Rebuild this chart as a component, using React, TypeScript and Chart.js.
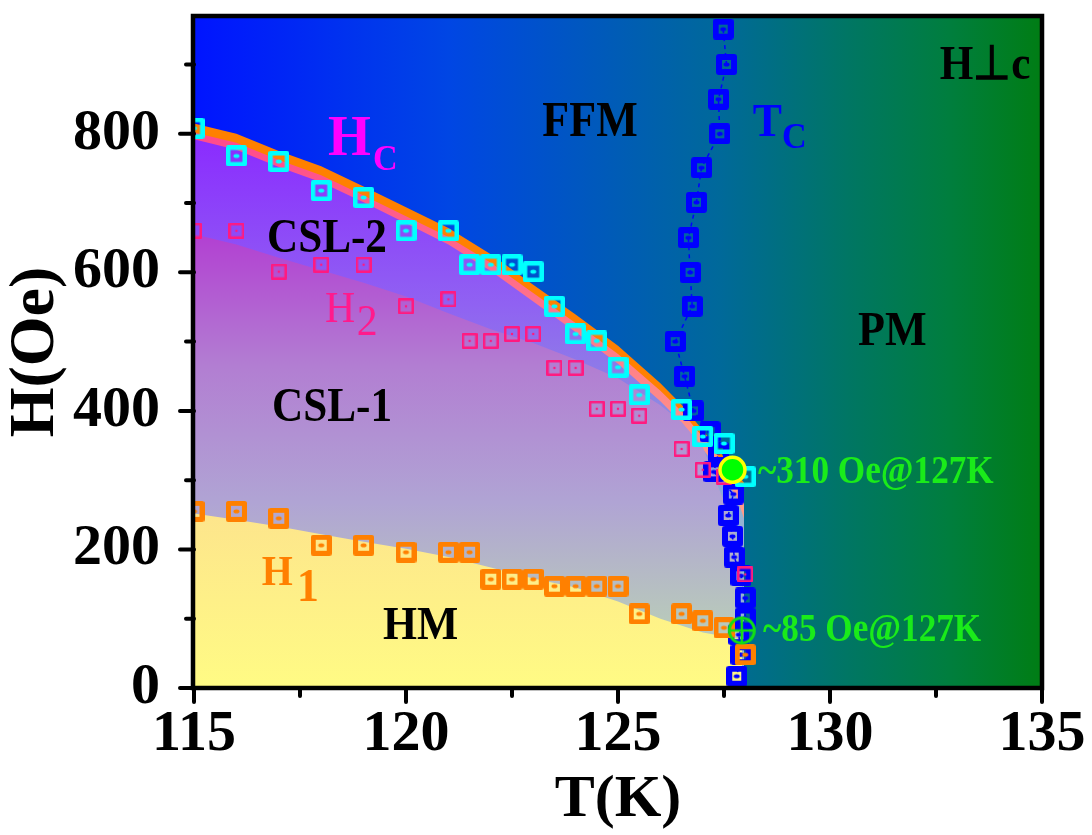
import React, { useEffect, useRef } from "react";
import { Chart, registerables } from "chart.js";

Chart.register(...registerables);

const FONT = '"Liberation Serif", "Times New Roman", serif';

// ---- axis ticks ----
const xMajorTicks = [115, 120, 125, 130, 135];
const xMinorTicks = [117.5, 122.5, 127.5, 132.5];
const yMajorTicks = [0, 200, 400, 600, 800];
const yMinorTicks = [100, 300, 500, 700, 900];

// ---- measured points ----
const markerTemps = [115, 116, 117, 118, 119, 120, 121, 121.5, 122, 122.5, 123, 123.5, 124, 124.5, 125, 125.5, 126.5, 127, 127.5, 128];
const hcField = [808, 768, 760, 718, 708, 660, 660, 611, 611, 611, 601, 551, 511, 501, 463, 423, 402, 363, 353, 305];
const h2Field = [660, 660, 601, 611, 611, 551, 561, 501, 501, 511, 511, 462, 462, 403, 403, 393, 345, 315, 305, 164];
const h1Field = [255, 255, 245, 206, 206, 196, 196, 196, 157, 157, 157, 147, 147, 147, 147, 107, 107, 97, 87, 48];

const tcTemp = [127.48, 127.56, 127.37, 127.4, 126.97, 126.85, 126.66, 126.7, 126.75, 126.35, 126.57, 126.78, 127.17, 127.37, 127.26, 127.72, 127.6, 127.7, 127.74, 127.9, 128.0, 128.0, 127.85, 127.9, 127.8];
const tcField = [951, 900, 850, 800, 751, 701, 650, 600, 551, 500, 450, 400, 370, 340, 312, 280, 249, 219, 189, 162, 130, 101, 77, 48, 17];

const crit310Temp = [127.7];
const crit310Field = [315];
const crit85Temp = [127.92];
const crit85Field = [83];

// ---- phase boundaries (region edges) ----
const hcEdgeT = [115, 116, 117, 118, 119, 120, 121, 122, 123, 124, 125, 126, 126.5, 127, 127.5, 128.05, 127.97, 127.97];
const hcEdgeH = [815, 800, 775, 753, 724, 694, 664, 626, 582, 539, 494, 440, 409, 372, 333, 290, 260, 0];

const pinkEdgeT = [115, 116, 117, 118, 119, 120, 121, 122, 123, 124, 125, 126, 126.5, 127, 127.5, 128.0, 127.97, 127.97];
const pinkEdgeH = [802, 787, 762, 740, 711, 681, 651, 614, 570, 527, 482, 429, 399, 362, 324, 283, 255, 0];

const csl2EdgeT = [115, 116, 117, 118, 119, 120, 121, 122, 123, 124, 125, 126, 126.5, 127, 127.5, 127.8, 127.97, 127.97];
const csl2EdgeH = [792, 777, 752, 730, 701, 671, 640, 602, 558, 514, 468, 414, 383, 345, 305, 275, 245, 0];

const csl1EdgeT = [115, 116, 117, 118, 119, 120, 121, 122, 123, 124, 125, 126, 126.5, 127, 127.3, 127.55, 127.75, 127.87, 127.87];
const csl1EdgeH = [655, 640, 621, 603, 585, 565, 541, 518, 498, 474, 447, 408, 384, 348, 300, 262, 230, 190, 0];

const hmEdgeT = [115, 116, 117, 118, 119, 120, 121, 122, 123, 124, 125, 126, 127, 127.93, 127.93];
const hmEdgeH = [252, 243, 233, 222, 211, 201, 189, 174, 158, 145, 125, 100, 80, 70, 0];

// ---- text annotations (data coordinates) ----
const textLabels = [
  { text: "FFM", x: 124.34, y: 797, color: "#000000", size: 50, weight: "bold", align: "center", sx: 0.88 },
  { text: "H", x: 118.16, y: 770, color: "#ff00ff", size: 58, weight: "bold", align: "left", sx: 0.95 },
  { text: "C", x: 119.22, y: 747, color: "#ff00ff", size: 36, weight: "bold", align: "left", sx: 0.95 },
  { text: "T", x: 128.18, y: 797, color: "#0000ff", size: 46, weight: "bold", align: "left", sx: 0.95 },
  { text: "C", x: 128.87, y: 780, color: "#0000ff", size: 36, weight: "bold", align: "left", sx: 0.95 },
  { text: "CSL-2", x: 116.72, y: 630, color: "#000000", size: 48, weight: "bold", align: "left", sx: 0.9 },
  { text: "H", x: 118.09, y: 528, color: "#ff1a8c", size: 44, weight: "normal", align: "left", sx: 0.95 },
  { text: "2", x: 118.84, y: 509, color: "#ff1a8c", size: 44, weight: "normal", align: "left", sx: 0.95 },
  { text: "CSL-1", x: 116.84, y: 385, color: "#000000", size: 48, weight: "bold", align: "left", sx: 0.9 },
  { text: "PM", x: 130.66, y: 495, color: "#000000", size: 48, weight: "bold", align: "left", sx: 0.92 },
  { text: "H", x: 116.6, y: 149, color: "#ff8000", size: 42, weight: "bold", align: "left", sx: 0.95 },
  { text: "1", x: 117.43, y: 125, color: "#ff8000", size: 46, weight: "bold", align: "left", sx: 0.95 },
  { text: "HM", x: 119.46, y: 71, color: "#000000", size: 46, weight: "bold", align: "left", sx: 0.95 },
  { text: "H\u22A5c", x: 132.59, y: 879, color: "#000000", size: 48, weight: "bold", align: "left", sx: 0.9 },
  { text: "~310 Oe@127K", x: 128.3, y: 296, color: "#1aeb1a", size: 40, weight: "bold", align: "left", sx: 0.88 },
  { text: "~85 Oe@127K", x: 128.42, y: 68, color: "#1aeb1a", size: 40, weight: "bold", align: "left", sx: 0.88 },
];

const pts = (xs: number[], ys: number[]) => xs.map((x, i) => ({ x, y: ys[i] }));

function squareMarker(size: number, lw: number, color: string, dotW: number, dotH: number) {
  const c = document.createElement("canvas");
  c.width = size;
  c.height = size;
  const g = c.getContext("2d")!;
  g.strokeStyle = color;
  g.lineWidth = lw;
  g.lineJoin = "round";
  g.strokeRect(lw / 2, lw / 2, size - lw, size - lw);
  g.fillStyle = color;
  g.beginPath();
  g.ellipse(size / 2, size / 2, dotW / 2, dotH / 2, 0, 0, Math.PI * 2);
  g.fill();
  return c;
}

function crossCircleMarker() {
  const s = 32;
  const c = document.createElement("canvas");
  c.width = s;
  c.height = s;
  const g = c.getContext("2d")!;
  g.strokeStyle = "#12e012";
  g.lineWidth = 3;
  g.beginPath();
  g.arc(s / 2, s / 2, 12.5, 0, Math.PI * 2);
  g.stroke();
  g.lineWidth = 2.5;
  g.beginPath();
  g.moveTo(s / 2, 4);
  g.lineTo(s / 2, s - 4);
  g.moveTo(4, s / 2);
  g.lineTo(s - 4, s / 2);
  g.stroke();
  return c;
}

function verticalGradient(y0: number, y1: number, stops: [number, string][]) {
  return (ctx: any) => {
    const chart = ctx.chart;
    const { chartArea, scales } = chart;
    if (!chartArea || !scales.y) return stops[0][1];
    const g = chart.ctx.createLinearGradient(0, scales.y.getPixelForValue(y0), 0, scales.y.getPixelForValue(y1));
    stops.forEach(([o, c]) => g.addColorStop(o, c));
    return g;
  };
}

const backgroundPlugin = {
  id: "phaseBackground",
  beforeDatasetsDraw(chart: any) {
    const { ctx, chartArea: a } = chart;
    const g = ctx.createLinearGradient(a.left, 0, a.right, 0);
    g.addColorStop(0, "#0014ff");
    g.addColorStop(0.3, "#0046e4");
    g.addColorStop(0.62, "#00699a");
    g.addColorStop(0.77, "#007664");
    g.addColorStop(0.89, "#007e3e");
    g.addColorStop(1, "#007d14");
    ctx.save();
    ctx.fillStyle = g;
    ctx.fillRect(a.left, a.top, a.width, a.height);
    ctx.restore();
  },
};

const textPlugin = {
  id: "phaseText",
  afterDatasetsDraw(chart: any) {
    const { ctx, scales } = chart;
    ctx.save();
    textLabels.forEach((l) => {
      const px = scales.x.getPixelForValue(l.x);
      const py = scales.y.getPixelForValue(l.y);
      ctx.save();
      ctx.translate(px, py);
      ctx.scale(l.sx, 1);
      ctx.font = `${l.weight} ${l.size}px ${FONT}`;
      ctx.fillStyle = l.color;
      ctx.textAlign = l.align;
      ctx.textBaseline = "alphabetic";
      ctx.fillText(l.text, 0, 0);
      ctx.restore();
    });
    ctx.restore();
  },
};

const framePlugin = {
  id: "phaseFrame",
  afterDraw(chart: any) {
    const { ctx, chartArea: a, scales } = chart;
    ctx.save();
    ctx.strokeStyle = "#000";
    ctx.lineWidth = 4.5;
    ctx.strokeRect(a.left - 1, a.top, a.width + 1, a.height);
    ctx.lineCap = "round";
    ctx.lineWidth = 4;
    ctx.beginPath();
    xMajorTicks.forEach((v) => {
      const p = scales.x.getPixelForValue(v);
      ctx.moveTo(p, a.bottom);
      ctx.lineTo(p, a.bottom + 14);
    });
    xMinorTicks.forEach((v) => {
      const p = scales.x.getPixelForValue(v);
      ctx.moveTo(p, a.bottom);
      ctx.lineTo(p, a.bottom + 8);
    });
    yMajorTicks.forEach((v) => {
      const p = scales.y.getPixelForValue(v);
      ctx.moveTo(a.left, p);
      ctx.lineTo(a.left - 14, p);
    });
    yMinorTicks.forEach((v) => {
      const p = scales.y.getPixelForValue(v);
      ctx.moveTo(a.left, p);
      ctx.lineTo(a.left - 8, p);
    });
    ctx.stroke();
    ctx.restore();
  },
};

export default function App() {
  const ref = useRef<HTMLCanvasElement>(null);

  useEffect(() => {
    document.body.style.margin = "0";
    const canvas = ref.current;
    if (!canvas) return;

    const cyanMarker = squareMarker(21, 4.5, "#00ffff", 6, 4);
    const pinkMarker = squareMarker(16, 2.5, "#ff1a80", 2.5, 2.5);
    const orangeMarker = squareMarker(21, 5, "#ff8000", 6, 4);
    const blueMarker = squareMarker(21, 6, "#0000ff", 6, 4);
    const crossMarker = crossCircleMarker();

    const region = (data: any[], bg: any, order: number) => ({
      data,
      showLine: true,
      fill: "origin",
      backgroundColor: bg,
      borderWidth: 0,
      borderColor: "rgba(0,0,0,0)",
      pointRadius: 0,
      tension: 0,
      order,
    });

    const markers = (data: any[], style: any, order: number) => ({
      data,
      showLine: false,
      pointStyle: style,
      pointRadius: 10,
      order,
    });

    const chart = new Chart(canvas, {
      type: "scatter",
      data: {
        datasets: [
          region(pts(hcEdgeT, hcEdgeH), "#ff8000", 100),
          region(
            pts(pinkEdgeT, pinkEdgeH),
            verticalGradient(800, 300, [
              [0, "#ff4a8c"],
              [1, "#ff9c88"],
            ]),
            99
          ),
          region(
            pts(csl2EdgeT, csl2EdgeH),
            verticalGradient(800, 250, [
              [0, "#8a2aff"],
              [0.45, "#9062f2"],
              [0.9, "#8aa2d8"],
              [1, "#92b2d4"],
            ]),
            98
          ),
          region(
            pts(csl1EdgeT, csl1EdgeH),
            verticalGradient(660, 100, [
              [0, "#b23ed2"],
              [0.35, "#b27ed2"],
              [0.7, "#b0a4d4"],
              [1, "#b8c8bc"],
            ]),
            97
          ),
          region(
            pts(hmEdgeT, hmEdgeH),
            verticalGradient(252, 0, [
              [0, "#fde58c"],
              [1, "#fffb84"],
            ]),
            96
          ),
          {
            data: pts(tcTemp, tcField),
            showLine: true,
            borderColor: "#0000ff",
            borderWidth: 1.5,
            borderDash: [4, 4],
            pointStyle: blueMarker,
            pointRadius: 10,
            tension: 0,
            order: 30,
          },
          markers(pts(markerTemps, hcField), cyanMarker, 25),
          markers(pts(markerTemps, h2Field), pinkMarker, 24),
          markers(pts(markerTemps, h1Field), orangeMarker, 23),
          {
            data: pts(crit310Temp, crit310Field),
            showLine: false,
            pointStyle: "circle",
            pointRadius: 12.5,
            backgroundColor: "#00ff00",
            borderColor: "#ffff00",
            borderWidth: 3.5,
            order: 10,
          },
          markers(pts(crit85Temp, crit85Field), crossMarker, 9),
        ] as any,
      },
      options: {
        animation: false,
        responsive: true,
        maintainAspectRatio: false,
        events: [],
        layout: { padding: { top: 5, right: 50, left: 0, bottom: 0 } },
        plugins: {
          legend: { display: false },
          tooltip: { enabled: false },
        },
        scales: {
          x: {
            type: "linear",
            min: 115,
            max: 135,
            grid: { display: false, drawTicks: false },
            border: { display: false },
            afterBuildTicks: (s: any) => {
              s.ticks = xMajorTicks.map((v) => ({ value: v }));
            },
            ticks: {
              color: "#000",
              padding: 12,
              maxRotation: 0,
              autoSkip: false,
              font: { family: FONT, size: 58, weight: "bold" },
            },
            title: {
              display: true,
              text: "T(K)",
              color: "#000",
              font: { family: FONT, size: 60, weight: "bold", lineHeight: 1 },
              padding: { top: 0, bottom: 5 },
            },
            afterFit: (s: any) => {
              s.height = 147;
              s.paddingLeft = 0;
              s.paddingRight = 0;
            },
          },
          y: {
            type: "linear",
            min: 0,
            max: 970,
            grid: { display: false, drawTicks: false },
            border: { display: false },
            afterBuildTicks: (s: any) => {
              s.ticks = yMajorTicks.map((v) => ({ value: v }));
            },
            ticks: {
              color: "#000",
              padding: 34,
              autoSkip: false,
              font: { family: FONT, size: 58, weight: "bold" },
            },
            title: {
              display: true,
              text: "H(Oe)",
              color: "#000",
              font: { family: FONT, size: 64, weight: "bold", lineHeight: 1 },
              padding: { top: 4, bottom: 0 },
            },
            afterFit: (s: any) => {
              s.width = 194;
              s.paddingTop = 0;
              s.paddingBottom = 0;
            },
          },
        },
      } as any,
      plugins: [backgroundPlugin, textPlugin, framePlugin],
    });

    return () => chart.destroy();
  }, []);

  return (
    <div style={{ position: "relative", width: 1092, height: 835 }}>
      <canvas ref={ref} />
    </div>
  );
}
